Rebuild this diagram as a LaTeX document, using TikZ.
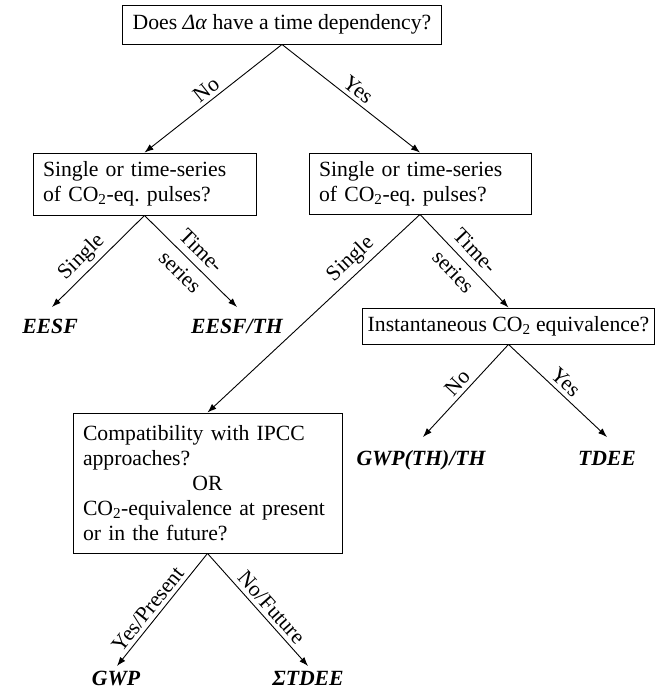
\documentclass[tikz,border=0pt]{standalone}
\usepackage{fontspec}
\setmainfont{Liberation Serif}
\usetikzlibrary{arrows.meta}
\frenchspacing
\newcommand{\cotwo}{CO\textsubscript{2}}
\newcommand{\answerNode}[4]{%%
  %% A final answer, set on its baseline below an arrow tip.
  \node[answerStyle] (#1) at (#2,#3) {#4};
}
\newcommand{\choiceArrow}[4]{%%
  %% An arrow from a question to the next step, with its label.
  \draw[arrowStyle] (#1) -- node[labelStyle,#3] {#4} (#2);
}

\begin{document}
\begin{tikzpicture}[%%
  x=1pt,y=-1pt,%%
  font=\fontsize{21.7}{25}\selectfont,%%
  arrowStyle/.style={-{Latex[length=9pt,width=6.5pt]},line width=0.9pt},%%
  boxStyle/.style={draw,line width=0.9pt,align=left,inner xsep=10pt,inner ysep=0pt},%%
  labelStyle/.style={sloped,inner sep=4pt},%%
  answerStyle/.style={anchor=base,inner sep=0pt,font=\fontsize{21.7}{25}\selectfont\bfseries\itshape}%%
]
%%
\useasboundingbox (0,0) rectangle (656,690);
%% The questions.
\node[boxStyle,align=center,minimum width=318pt,minimum height=39pt] (timeQ) at (282,24.5)
  {Does \textit{Δα} have a time dependency?};
\node[boxStyle,text width=203pt,minimum height=62pt] (pulseL) at (144.5,184)
  {Single or time-series\\of \cotwo-eq. pulses?};
\node[boxStyle,text width=202pt,minimum height=61pt] (pulseR) at (420,183.5)
  {Single or time-series\\of \cotwo-eq. pulses?};
\node[boxStyle,align=center,inner xsep=5pt,minimum width=292pt,minimum height=36pt] (instantQ) at (508.5,326)
  {Instantaneous \cotwo{} equivalence?};
\node[boxStyle,text width=249pt,minimum height=140pt] (ipccQ) at (207.5,483)
  {Compatibility with IPCC\\approaches?\\\makebox[\linewidth][c]{OR}\\%%
   \cotwo-equivalence at present\\or in the future?};
%% The arrow tips above the answers.
\coordinate (tipEESF) at (52,307);
\coordinate (tipEESFTH) at (237,307);
\coordinate (tipGWPTH) at (423,437);
\coordinate (tipTDEE) at (607,437);
\coordinate (tipGWP) at (117,666);
\coordinate (tipSumTDEE) at (308,666);
%% The answers.
\answerNode{eesf}{50}{333}{EESF}
\answerNode{eesfTH}{237}{333}{EESF/TH}
\answerNode{gwpTH}{421}{465}{GWP(TH)/TH}
\answerNode{tdee}{607}{465}{TDEE}
\answerNode{gwp}{116}{685}{GWP}
\answerNode{sumTDEE}{308}{685}{ΣTDEE}
%% The choices.
\choiceArrow{timeQ.south}{pulseL.north}{above}{No}
\choiceArrow{timeQ.south}{pulseR.north}{above}{Yes}
\choiceArrow{pulseL.south}{tipEESF}{above,pos=0.57}{Single}
\choiceArrow{pulseL.south}{tipEESFTH}{align=center,inner sep=0pt}{Time-\\[5pt]series}
\choiceArrow{pulseR.south}{ipccQ.north}{above,pos=0.28}{Single}
\choiceArrow{pulseR.south}{instantQ.north}{align=center,inner sep=0pt}{Time-\\[5pt]series}
\choiceArrow{instantQ.south}{tipGWPTH}{above}{No}
\choiceArrow{instantQ.south}{tipTDEE}{above}{Yes}
\choiceArrow{ipccQ.south}{tipGWP}{above,pos=0.56}{Yes/Present}
\choiceArrow{ipccQ.south}{tipSumTDEE}{above,pos=0.55}{No/Future}
\end{tikzpicture}
\end{document}
